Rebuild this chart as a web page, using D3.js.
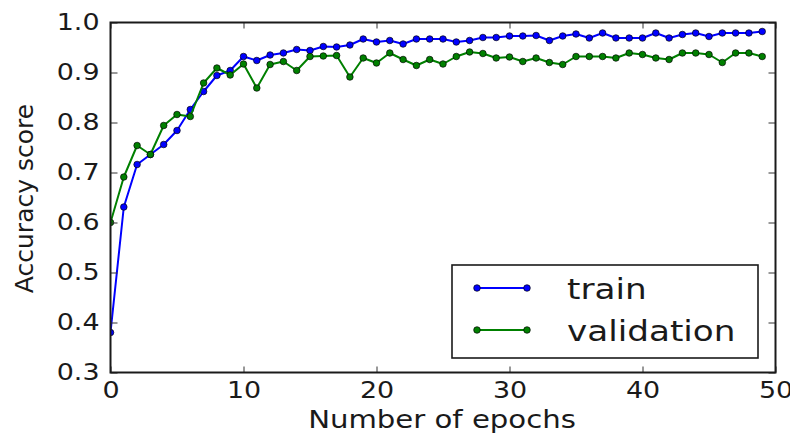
<!DOCTYPE html>
<html>
<head>
<meta charset="utf-8">
<script src="https://cdn.jsdelivr.net/npm/d3@7"></script>
<style>
  html, body { margin: 0; padding: 0; background: #fff; }
  svg { display: block; }
  text { font-family: "DejaVu Sans", sans-serif; fill: #1a1a1a; }
</style>
</head>
<body>
<svg id="chart" width="790" height="435"></svg>
<script>
const epochs = d3.range(0, 50);
const train = [0.38, 0.631, 0.716, 0.736, 0.756, 0.784, 0.826, 0.862, 0.894, 0.904,
  0.932, 0.924, 0.935, 0.939, 0.946, 0.944, 0.952, 0.951, 0.955, 0.967,
  0.961, 0.964, 0.957, 0.967, 0.967, 0.967, 0.961, 0.964, 0.970, 0.970,
  0.973, 0.973, 0.974, 0.964, 0.973, 0.977, 0.969, 0.979, 0.969, 0.969,
  0.969, 0.979, 0.969, 0.976, 0.979, 0.972, 0.979, 0.979, 0.979, 0.982];
const validation = [0.60, 0.691, 0.754, 0.736, 0.794, 0.816, 0.812, 0.879, 0.909, 0.895,
  0.917, 0.869, 0.916, 0.922, 0.904, 0.932, 0.933, 0.934, 0.891, 0.929,
  0.919, 0.939, 0.926, 0.914, 0.926, 0.917, 0.932, 0.941, 0.938, 0.929,
  0.931, 0.922, 0.929, 0.920, 0.916, 0.932, 0.932, 0.932, 0.929, 0.939,
  0.936, 0.929, 0.926, 0.939, 0.939, 0.936, 0.920, 0.939, 0.939, 0.932];
const xTicks = [0, 10, 20, 30, 40, 50];
const yTicks = [0.3, 0.4, 0.5, 0.6, 0.7, 0.8, 0.9, 1.0];
const seriesNames = ["train", "validation"];
const seriesColors = ["#0000ff", "#008000"];
const xLabel = "Number of epochs";
const yLabel = "Accuracy score";

const L = 110.5, R = 775.5, T = 22.5, B = 372.5;
const svg = d3.select("#chart");
const x = d3.scaleLinear().domain([0, 50]).range([L, R]);
const y = d3.scaleLinear().domain([0.3, 1.0]).range([B, T]);

function stretch(sel, k) {
  sel.each(function () {
    const len = this.getComputedTextLength();
    this.setAttribute("textLength", len * k);
    this.setAttribute("lengthAdjust", "spacingAndGlyphs");
  });
}

svg.append("defs").append("clipPath").attr("id", "clip")
  .append("rect").attr("x", L).attr("y", T).attr("width", R - L).attr("height", B - T);

// data
const plot = svg.append("g").attr("clip-path", "url(#clip)");
[train, validation].forEach((vals, i) => {
  const pts = epochs.map((e, j) => [e, vals[j]]);
  plot.append("path").datum(pts)
    .attr("fill", "none").attr("stroke", seriesColors[i]).attr("stroke-width", 2)
    .attr("stroke-linejoin", "round")
    .attr("d", d3.line().x(d => x(d[0])).y(d => y(d[1])));
  plot.selectAll(null).data(pts).enter().append("circle")
    .attr("cx", d => x(d[0])).attr("cy", d => y(d[1])).attr("r", 3.3)
    .attr("fill", seriesColors[i]).attr("stroke", "rgba(0,0,0,0.75)").attr("stroke-width", 0.9);
});

// axes
const axL = svg.append("g").attr("transform", `translate(${L},0)`)
  .call(d3.axisLeft(y).tickValues(yTicks).tickFormat(d3.format(".1f")).tickSize(-7).tickPadding(11));
const axR = svg.append("g").attr("transform", `translate(${R},0)`)
  .call(d3.axisRight(y).tickValues(yTicks).tickFormat("").tickSize(-7));
const axB = svg.append("g").attr("transform", `translate(0,${B})`)
  .call(d3.axisBottom(x).tickValues(xTicks).tickFormat(d3.format("d")).tickSize(-6).tickPadding(9));
const axT = svg.append("g").attr("transform", `translate(0,${T})`)
  .call(d3.axisTop(x).tickValues(xTicks).tickFormat("").tickSize(-6));
[axL, axR, axB, axT].forEach(a => {
  a.select(".domain").remove();
  a.selectAll(".tick line").attr("stroke", "#333").attr("stroke-width", 1);
  a.selectAll("text").attr("font-size", 23).attr("font-family", "DejaVu Sans").attr("fill", "#1a1a1a");
});
stretch(axL.selectAll("text"), 1.17);
stretch(axB.selectAll("text"), 1.17);

// frame
svg.append("rect").attr("x", L).attr("y", T).attr("width", R - L).attr("height", B - T)
  .attr("fill", "none").attr("stroke", "#1a1a1a").attr("stroke-width", 2);

// axis labels
const xl = svg.append("text").attr("x", (L + R) / 2 - 1).attr("y", 428)
  .attr("text-anchor", "middle").attr("font-size", 24.5).text(xLabel);
stretch(xl, 1.19);
svg.append("text").attr("transform", "translate(33,198.5) rotate(-90)")
  .attr("text-anchor", "middle").attr("font-family", "'Open Sans', sans-serif")
  .attr("font-size", 25).text(yLabel);

// legend
const lg = svg.append("g");
lg.append("rect").attr("x", 452).attr("y", 265).attr("width", 306).attr("height", 93)
  .attr("fill", "#fff").attr("stroke", "#1a1a1a").attr("stroke-width", 1.6);
seriesNames.forEach((name, i) => {
  const yy = 288 + i * 42;
  lg.append("line").attr("x1", 477).attr("x2", 527).attr("y1", yy).attr("y2", yy)
    .attr("stroke", seriesColors[i]).attr("stroke-width", 2);
  [477, 527].forEach(cx => lg.append("circle").attr("cx", cx).attr("cy", yy).attr("r", 3.3)
    .attr("fill", seriesColors[i]).attr("stroke", "rgba(0,0,0,0.75)").attr("stroke-width", 0.9));
  const t = lg.append("text").attr("x", 567).attr("y", yy + 10.5).attr("font-size", 29).text(name);
  stretch(t, 1.18);
});
</script>
</body>
</html>
